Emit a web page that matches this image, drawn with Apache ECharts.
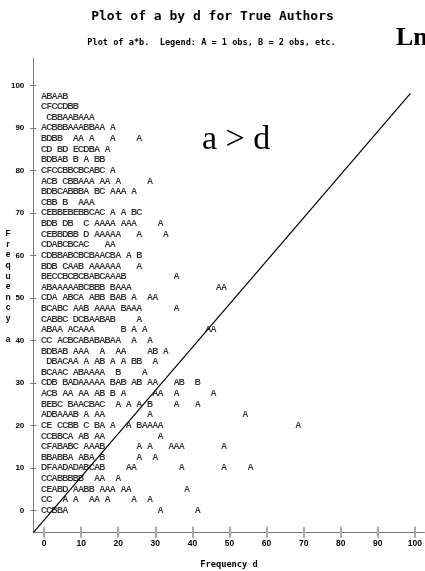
<!DOCTYPE html>
<html>
<head>
<meta charset="utf-8">
<script src="https://cdn.jsdelivr.net/npm/echarts@6/dist/echarts.min.js"></script>
<style>
  html, body { margin: 0; padding: 0; background: #ffffff; }
  #chart { width: 425px; height: 571px; }
</style>
</head>
<body>
<div id="chart"></div>
<script>
// Value of a for each printed row of the line-printer plot (top to bottom)
const rowA = [97.5, 95, 92.5, 90, 87.5, 85, 82.5, 80, 77.5, 75, 72.5, 70, 67.5, 65, 62.5, 60,
              57.5, 55, 52.5, 50, 47.5, 45, 42.5, 40, 37.5, 35, 32.5, 30, 27.5, 25, 22.5, 20,
              17.5, 15, 12.5, 10, 7.5, 5, 2.5, 0];

// Printed cells of each row as [first printer column, run of symbols].
// Symbol = number of observations in the cell: A = 1, B = 2, C = 3, ...
const rowCells = [
  [[0, "ABAAB"]],
  [[0, "CFCCDBB"]],
  [[1, "CBBAABAAA"]],
  [[0, "ACBBBAAABBAA"], [13, "A"]],
  [[0, "BDBB"], [6, "AA"], [9, "A"], [13, "A"], [18, "A"]],
  [[0, "CD"], [3, "BD"], [6, "ECDBA"], [12, "A"]],
  [[0, "BDBAB"], [6, "B"], [8, "A"], [10, "BB"]],
  [[0, "CFCCBBCBCABC"], [13, "A"]],
  [[0, "ACB"], [4, "CBBAAA"], [11, "AA"], [14, "A"], [20, "A"]],
  [[0, "BDBCABBBA"], [10, "BC"], [13, "AAA"], [17, "A"]],
  [[0, "CBB"], [4, "B"], [7, "AAA"]],
  [[0, "CEBBEBEBBCAC"], [13, "A"], [15, "A"], [17, "BC"]],
  [[0, "BDB"], [4, "DB"], [8, "C"], [10, "AAAA"], [15, "AAA"], [22, "A"]],
  [[0, "CEBBDBB"], [8, "D"], [10, "AAAAA"], [18, "A"], [23, "A"]],
  [[0, "CDABCBCAC"], [12, "AA"]],
  [[0, "CDBBABCBCBAACBA"], [16, "A"], [18, "B"]],
  [[0, "BDB"], [4, "CAAB"], [9, "AAAAAA"], [18, "A"]],
  [[0, "BECCBCBCBABCAAAB"], [25, "A"]],
  [[0, "ABAAAAABCBBB"], [13, "BAAA"], [33, "AA"]],
  [[0, "CDA"], [4, "ABCA"], [9, "ABB"], [13, "BAB"], [17, "A"], [20, "AA"]],
  [[0, "BCABC"], [6, "AAB"], [10, "AAAA"], [15, "BAAA"], [25, "A"]],
  [[0, "CABBC"], [6, "DCBAABAB"], [18, "A"]],
  [[0, "ABAA"], [5, "ACAAA"], [15, "B"], [17, "A"], [19, "A"], [31, "AA"]],
  [[0, "CC"], [3, "ACBCABABABAA"], [17, "A"], [20, "A"]],
  [[0, "BDBAB"], [6, "AAA"], [11, "A"], [14, "AA"], [20, "AB"], [23, "A"]],
  [[1, "DBACAA"], [8, "A"], [10, "AB"], [13, "A"], [15, "A"], [17, "BB"], [21, "A"]],
  [[0, "BCAAC"], [6, "ABAAAA"], [14, "B"], [19, "A"]],
  [[0, "CDB"], [4, "BADAAAAA"], [13, "BAB"], [17, "AB"], [20, "AA"], [25, "AB"], [29, "B"]],
  [[0, "ACB"], [4, "AA"], [7, "AA"], [10, "AB"], [13, "B"], [15, "A"], [21, "AA"], [25, "A"], [32, "A"]],
  [[0, "BEBC"], [5, "BAACBAC"], [14, "A"], [16, "A"], [18, "A"], [20, "B"], [25, "A"], [29, "A"]],
  [[0, "ADBAAAB"], [8, "A"], [10, "AA"], [20, "A"], [38, "A"]],
  [[0, "CE"], [3, "CCBB"], [8, "C"], [10, "BA"], [13, "A"], [16, "A"], [18, "BAAAA"], [48, "A"]],
  [[0, "CCBBCA"], [7, "AB"], [10, "AA"], [22, "A"]],
  [[0, "CFABABC"], [8, "AAAB"], [18, "A"], [20, "A"], [24, "AAA"], [34, "A"]],
  [[0, "BBABBA"], [7, "ABA"], [11, "B"], [18, "A"], [21, "A"]],
  [[0, "DFAADADABCAB"], [16, "AA"], [26, "A"], [34, "A"], [39, "A"]],
  [[0, "CCABBBBB"], [10, "AA"], [14, "A"]],
  [[0, "CEABD"], [6, "AABB"], [11, "AAA"], [15, "AA"], [27, "A"]],
  [[0, "CC"], [4, "A"], [6, "A"], [9, "AA"], [12, "A"], [17, "A"], [20, "A"]],
  [[0, "CCBBA"], [22, "A"], [29, "A"]]
];

// Width of one printer column in units of d (70 columns span 0..100)
const colStep = 10 / 7;

// Tick values of both axes
const xTicks = [0, 10, 20, 30, 40, 50, 60, 70, 80, 90, 100];
const yTicks = [0, 10, 20, 30, 40, 50, 60, 70, 80, 90, 100];

// Reference line a = d, corner to corner of the plotting region
const refLineD = [-2.9, 98.8];
const refLineA = [-5.2, 98.2];

// Visible range of the two axes
const dRange = [-2.9, 102.56];
const aRange = [-5.2, 106.5];

const cellPoints = [];
rowA.forEach(function (a, i) {
  rowCells[i].forEach(function (run) {
    const start = run[0], text = run[1];
    for (let k = 0; k < text.length; k++) {
      cellPoints.push([(start + k) * colStep, a, text[k]]);
    }
  });
});

const MONO = '"DejaVu Sans Mono", "Liberation Mono", monospace';
const SANS = '"Liberation Sans", Arial, Helvetica, sans-serif';
const SERIF = '"Liberation Serif", "Times New Roman", serif';

const chart = echarts.init(document.getElementById('chart'), null, { renderer: 'canvas' });

const baseX = {
  type: 'value', min: dRange[0], max: dRange[1], position: 'bottom', offset: 0,
  splitLine: { show: false }
};
const baseY = {
  type: 'value', min: aRange[0], max: aRange[1], position: 'left', offset: 0,
  splitLine: { show: false }
};

chart.setOption({
  animation: false,
  backgroundColor: '#ffffff',
  grid: { left: 33.3, right: 0, top: 58, bottom: 38.3, containLabel: false },
  xAxis: [
    Object.assign({}, baseX, {
      axisLine: { show: true, onZero: false, lineStyle: { color: '#777777', width: 1 } },
      axisTick: { show: true, customValues: xTicks, length: 5, inside: false,
                  lineStyle: { color: '#aaaaaa', width: 2 } },
      axisLabel: { show: true, customValues: xTicks, margin: 6, color: '#000000',
                   fontFamily: SANS, fontWeight: 'bold', fontSize: 8.5 }
    }),
    Object.assign({}, baseX, {
      axisLine: { show: false, onZero: false },
      axisTick: { show: true, customValues: xTicks, length: 6, inside: true,
                  lineStyle: { color: '#aaaaaa', width: 2 } },
      axisLabel: { show: false }
    })
  ],
  yAxis: [
    Object.assign({}, baseY, {
      axisLine: { show: true, onZero: false, lineStyle: { color: '#777777', width: 1 } },
      axisTick: { show: true, customValues: yTicks, length: 3, inside: false,
                  lineStyle: { color: '#777777', width: 1 } },
      axisLabel: { show: true, customValues: yTicks, margin: 9, color: '#000000',
                   fontFamily: SANS, fontWeight: 'bold', fontSize: 8 }
    }),
    Object.assign({}, baseY, {
      axisLine: { show: false, onZero: false },
      axisTick: { show: true, customValues: yTicks, length: 3, inside: true,
                  lineStyle: { color: '#777777', width: 1 } },
      axisLabel: { show: false }
    })
  ],
  series: [
    {
      type: 'line',
      xAxisIndex: 0, yAxisIndex: 0,
      data: refLineD.map(function (d, i) { return [d, refLineA[i]]; }),
      symbol: 'none',
      silent: true,
      lineStyle: { color: '#000000', width: 1.2 }
    },
    {
      type: 'scatter',
      xAxisIndex: 0, yAxisIndex: 0,
      data: cellPoints,
      symbolSize: 0,
      silent: true,
      itemStyle: { color: 'rgba(0,0,0,0)' },
      label: {
        show: true,
        position: 'inside',
        formatter: function (p) { return p.value[2]; },
        color: '#000000',
        fontFamily: SANS,
        fontWeight: 'bold',
        fontSize: 8.5,
        align: 'center',
        verticalAlign: 'middle'
      }
    }
  ],
  graphic: [
    { type: 'text', left: 'center', top: 10, silent: true,
      style: { text: 'Plot of a by d for True Authors', fill: '#000', font: 'bold 13px ' + MONO } },
    { type: 'text', x: 211.5, y: 42.3, silent: true,
      style: { text: 'Plot of a*b.  Legend: A = 1 obs, B = 2 obs, etc.', fill: '#000',
               font: 'bold 8.6px ' + MONO, align: 'center', verticalAlign: 'middle' } },
    { type: 'text', x: 229, y: 565, silent: true,
      style: { text: 'Frequency d', fill: '#000', font: 'bold 8.7px ' + MONO,
               align: 'center', verticalAlign: 'middle' } },
    { type: 'text', x: 8, y: 228.5, silent: true,
      style: { text: 'F\nr\ne\nq\nu\ne\nn\nc\ny\n \na', fill: '#000', font: 'bold 8.5px ' + SANS,
               lineHeight: 10.62, align: 'center', verticalAlign: 'top' } },
    { type: 'text', x: 202, y: 140, silent: true,
      style: { text: 'a > d', fill: '#000', font: '34px ' + SERIF,
               align: 'left', verticalAlign: 'middle' } },
    { type: 'text', x: 396, y: 38, silent: true,
      style: { text: 'Ln', fill: '#000', font: 'bold 26px ' + SERIF,
               align: 'left', verticalAlign: 'middle' } }
  ]
});
</script>
</body>
</html>
